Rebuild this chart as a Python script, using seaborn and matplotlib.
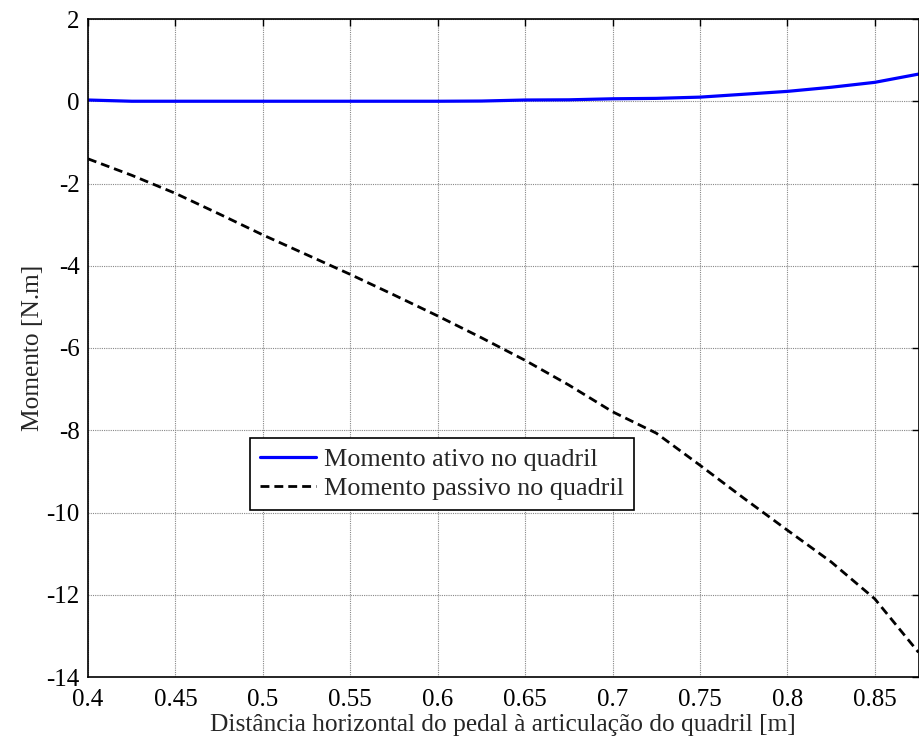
import matplotlib
matplotlib.use("Agg")
import matplotlib.pyplot as plt
import seaborn as sns
import pandas as pd

# Horizontal distance from pedal to hip joint [m]
distancia = [0.400, 0.425, 0.450, 0.475, 0.500, 0.525, 0.550, 0.575, 0.600, 0.625,
             0.650, 0.675, 0.700, 0.725, 0.750, 0.775, 0.800, 0.825, 0.850, 0.875]
# Active hip moment [N.m]
momento_ativo = [0.03, 0.00, 0.00, 0.00, 0.00, 0.00, 0.00, 0.00, 0.00, 0.005,
                 0.03, 0.035, 0.06, 0.07, 0.10, 0.17, 0.24, 0.34, 0.46, 0.66]
# Passive hip moment [N.m]
momento_passivo = [-1.40, -1.80, -2.24, -2.74, -3.25, -3.73, -4.21, -4.71, -5.22, -5.75,
                   -6.30, -6.90, -7.55, -8.07, -8.85, -9.65, -10.43, -11.20, -12.10, -13.40]

rotulo_ativo = "Momento ativo no quadril"
rotulo_passivo = "Momento passivo no quadril"
xticks = [0.4, 0.45, 0.5, 0.55, 0.6, 0.65, 0.7, 0.75, 0.8, 0.85]
xtick_labels = ["0.4", "0.45", "0.5", "0.55", "0.6", "0.65", "0.7", "0.75", "0.8", "0.85"]
yticks = [2, 0, -2, -4, -6, -8, -10, -12, -14]

sns.set_style("white")
plt.rcParams["font.family"] = ["Liberation Serif", "DejaVu Serif"]
plt.rcParams["axes.unicode_minus"] = False

df = pd.DataFrame({"x": distancia, "ativo": momento_ativo, "passivo": momento_passivo})

fig = plt.figure(figsize=(9.19, 7.39), dpi=100)
ax = fig.add_axes([88 / 919, 62 / 739, 830.5 / 919, 658 / 739])

sns.lineplot(data=df, x="x", y="ativo", ax=ax, color="#0000FF", linewidth=2.3,
             label=rotulo_ativo)
sns.lineplot(data=df, x="x", y="passivo", ax=ax, color="black", linewidth=2.0,
             linestyle=(0, (3.2, 1.8)), label=rotulo_passivo)

ax.set_xlim(0.4, 0.875)
ax.set_ylim(-14, 2)
ax.set_xticks(xticks)
ax.set_xticklabels(xtick_labels)
ax.set_yticks(yticks)
ax.set_yticklabels([str(v) for v in yticks])

ax.grid(True, color="#888888", linestyle=(0, (1, 1)), linewidth=0.8)
ax.tick_params(direction="in", length=5, width=1, top=True, right=True,
               labelsize=18, colors="black")
ax.tick_params(axis="x", pad=9)
ax.tick_params(axis="y", pad=6)
for s in ax.spines.values():
    s.set_color("black")
    s.set_linewidth(1.2)

ax.set_xlabel("Distância horizontal do pedal à articulação do quadril [m]",
              fontsize=18.3, labelpad=2)
ax.set_ylabel("Momento [N.m]", fontsize=18.3, labelpad=2)

leg = ax.legend(loc="upper left", bbox_to_anchor=((250 - 88) / 830.5, (677 - 438) / 658),
                fontsize=18.8, frameon=True, fancybox=False, framealpha=1,
                edgecolor="black", handlelength=2.15, handletextpad=0.3,
                borderpad=0.38, labelspacing=0.22, borderaxespad=0)
leg.get_frame().set_linewidth(1.2)

fig.savefig("out.png", dpi=100)
